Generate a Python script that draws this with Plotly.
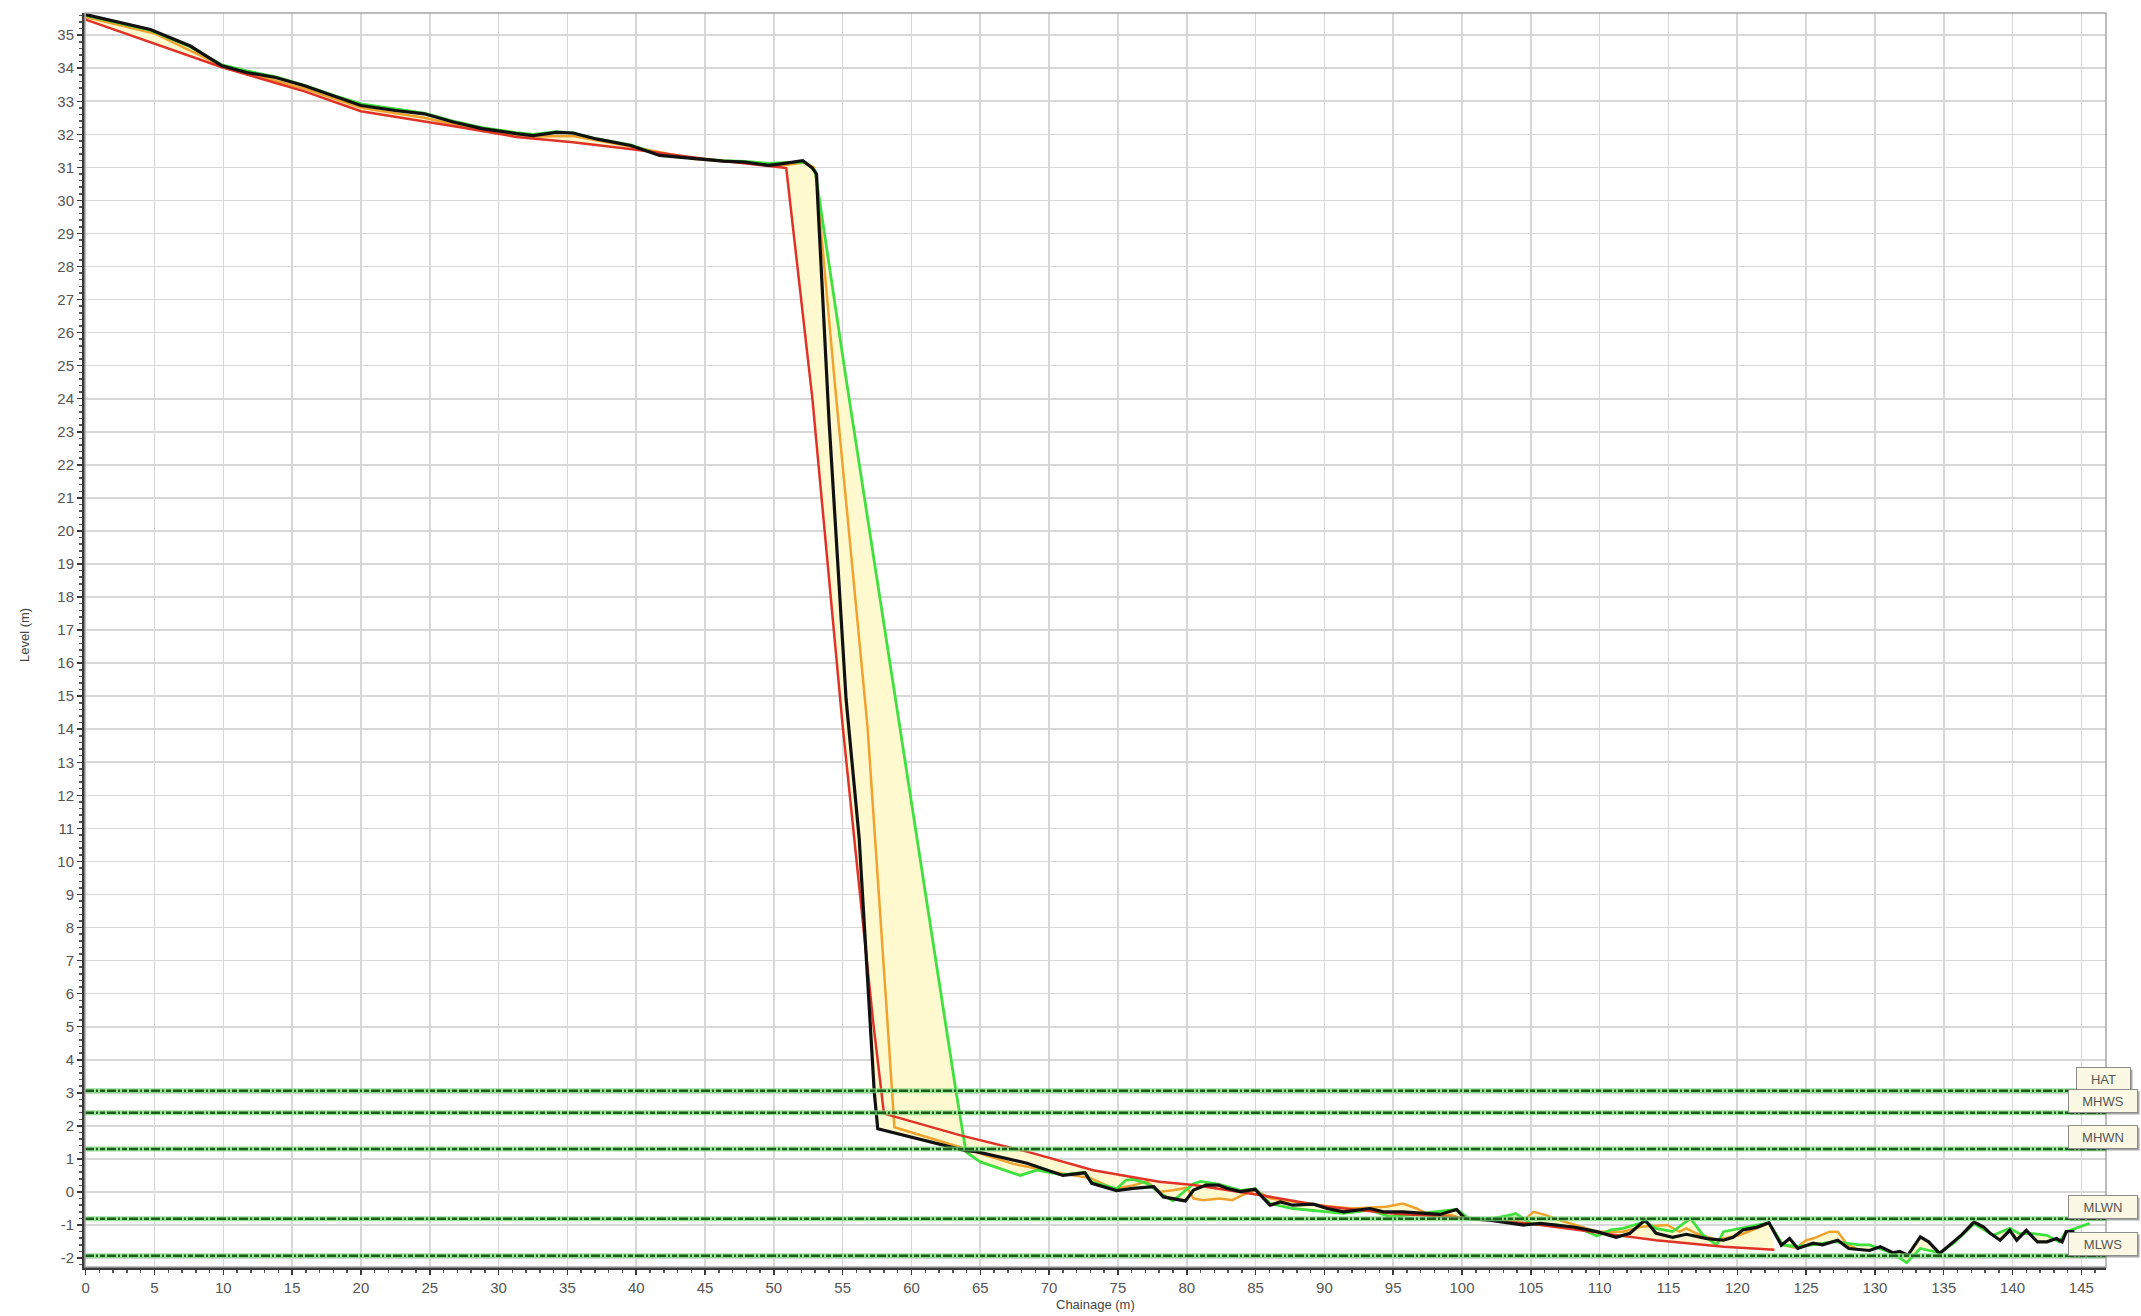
import plotly.graph_objects as go

# ---------------- data (chainage m, level m) ----------------
red_profile = [(0, 35.47), (9.9, 34.03), (15.9, 33.30), (20.0, 32.70), (27.1, 32.22), (31.3, 31.92),
               (35.4, 31.76), (40.0, 31.53), (45.0, 31.25), (49.6, 31.05), (50.9, 30.98), (52.8, 24.0),
               (55.0, 14.1), (57.2, 5.2), (58.0, 2.37), (63.5, 1.72), (68.4, 1.22), (73.2, 0.66),
               (78.0, 0.31), (80.5, 0.21), (85.3, -0.09), (90.2, -0.45), (95.0, -0.65), (100.0, -0.78),
               (102.0, -0.85), (105.0, -0.96), (109.3, -1.20), (114.1, -1.46), (119.0, -1.66), (122.7, -1.75)]

orange_profile = [(0, 35.55), (5.0, 35.05), (10.0, 34.05), (15.9, 33.38), (20.0, 32.80), (24.6, 32.50),
                  (28.8, 32.10), (32.5, 31.93), (35.4, 31.95), (40.0, 31.60), (44.2, 31.25), (47.9, 31.15),
                  (50.5, 31.05), (52.2, 31.15), (52.9, 31.0), (53.1, 30.6), (54.4, 24.6), (56.8, 14.1),
                  (58.15, 5.8), (58.76, 1.96), (63.96, 1.30), (67.4, 0.85), (71.0, 0.55), (73.0, 0.42),
                  (74.7, 0.10), (76.1, 0.20), (77.1, 0.32), (78.0, 0.0), (79.0, 0.05), (80.0, 0.13),
                  (80.5, -0.20), (81.2, -0.25), (82.4, -0.20), (83.3, -0.25), (84.0, -0.10), (85.0, 0.05),
                  (86.1, -0.20), (88.0, -0.30), (90.0, -0.42), (92.0, -0.50), (94.5, -0.45), (95.7, -0.35),
                  (96.7, -0.50), (97.9, -0.75), (99.2, -0.70), (100.0, -0.80), (102.0, -0.85), (104.5, -0.85),
                  (105.2, -0.60), (106.1, -0.70), (107.3, -0.88), (109.8, -1.20), (111.7, -1.20), (113.0, -1.05),
                  (114.9, -1.00), (115.8, -1.20), (116.3, -1.10), (117.0, -1.25), (118.5, -1.45), (120.2, -1.30),
                  (122.3, -0.95), (123.3, -1.60), (124.3, -1.70), (125.0, -1.46), (125.5, -1.41), (126.7, -1.20),
                  (127.3, -1.20), (128.0, -1.60), (128.6, -1.70)]

green_profile = [(0, 35.60), (4.7, 35.15), (7.6, 34.65), (9.9, 34.10), (11.7, 33.92), (13.8, 33.74),
                 (15.9, 33.48), (18.0, 33.18), (20.0, 32.92), (22.5, 32.78), (24.6, 32.64), (26.7, 32.40),
                 (28.8, 32.20), (31.3, 32.05), (32.5, 32.00), (34.2, 32.08), (35.4, 32.04), (37.1, 31.86),
                 (39.6, 31.68), (41.7, 31.38), (44.2, 31.27), (46.3, 31.20), (47.9, 31.18), (49.6, 31.12),
                 (51.0, 31.15), (52.3, 31.15), (53.0, 30.9), (55.25, 24.6), (63.24, 3.03), (63.96, 1.21),
                 (65.0, 0.91), (67.9, 0.50), (69.1, 0.66), (71.0, 0.52), (72.6, 0.60), (73.1, 0.30),
                 (74.9, 0.10), (75.6, 0.36), (76.1, 0.38), (77.1, 0.26), (78.3, -0.10), (79.0, -0.27),
                 (80.5, 0.25), (81.0, 0.32), (82.3, 0.24), (83.9, 0.05), (85.0, 0.10), (86.05, -0.35),
                 (87.7, -0.50), (89.2, -0.55), (90.2, -0.60), (91.4, -0.65), (93.3, -0.55), (94.8, -0.75),
                 (96.5, -0.68), (98.4, -0.60), (99.6, -0.53), (100.5, -0.80), (102.0, -0.82), (103.5, -0.70),
                 (103.9, -0.65), (105.0, -0.95), (107.0, -1.00), (108.5, -1.10), (109.8, -1.33), (110.8, -1.15),
                 (111.7, -1.10), (113.3, -0.90), (114.1, -1.10), (115.3, -1.20), (116.6, -0.80), (117.5, -1.30),
                 (118.5, -1.60), (119.0, -1.20), (120.2, -1.10), (121.4, -1.00), (122.3, -0.93), (123.3, -1.60),
                 (124.3, -1.65), (125.5, -1.60), (127.0, -1.50), (128.9, -1.60), (129.6, -1.60), (131.3, -1.85),
                 (132.3, -2.14), (133.3, -1.71), (134.7, -1.84), (135.7, -1.56), (136.7, -1.16), (137.2, -0.96),
                 (138.6, -1.31), (139.8, -1.10), (140.5, -1.26), (141.5, -1.26), (142.5, -1.31), (143.4, -1.51),
                 (143.9, -1.20), (145.6, -0.95)]

black_profile = [(0, 35.62), (4.7, 35.17), (7.6, 34.67), (9.9, 34.07), (11.7, 33.87), (13.8, 33.72),
                 (15.9, 33.47), (18.0, 33.17), (20.0, 32.87), (22.5, 32.72), (24.6, 32.62), (26.7, 32.37),
                 (28.8, 32.17), (31.3, 32.02), (32.5, 31.96), (34.2, 32.06), (35.4, 32.04), (37.1, 31.86),
                 (39.6, 31.66), (41.7, 31.36), (44.2, 31.26), (46.3, 31.19), (47.9, 31.16), (49.6, 31.06),
                 (50.4, 31.10), (52.1, 31.20), (52.8, 30.98), (53.1, 30.8), (53.2, 29.9), (54.0, 23.4),
                 (55.25, 14.9), (56.2, 10.7), (56.9, 5.8), (57.3, 3.0), (57.55, 1.91), (63.84, 1.26),
                 (64.7, 1.22), (68.4, 0.87), (71.0, 0.50), (72.6, 0.58), (73.1, 0.26), (74.9, 0.04),
                 (76.1, 0.11), (77.6, 0.16), (78.3, -0.15), (79.9, -0.27), (80.5, 0.06), (81.4, 0.21),
                 (82.3, 0.21), (82.9, 0.11), (83.9, 0.01), (84.96, 0.08), (86.05, -0.40), (86.8, -0.30),
                 (87.7, -0.40), (89.2, -0.37), (90.2, -0.50), (91.4, -0.60), (93.3, -0.50), (94.3, -0.60),
                 (95.7, -0.60), (97.2, -0.65), (98.4, -0.68), (99.6, -0.53), (100.2, -0.80), (102.0, -0.85),
                 (104.5, -1.00), (105.7, -0.95), (108.1, -1.06), (109.8, -1.20), (111.2, -1.37), (112.2, -1.25),
                 (113.3, -0.85), (114.1, -1.25), (115.3, -1.37), (116.3, -1.28), (117.8, -1.41), (119.0, -1.46),
                 (119.7, -1.37), (120.4, -1.15), (121.4, -1.07), (122.3, -0.93), (123.2, -1.61), (123.8, -1.41),
                 (124.4, -1.71), (125.5, -1.55), (126.2, -1.60), (127.3, -1.46), (128.1, -1.71), (129.6, -1.77),
                 (130.4, -1.66), (131.3, -1.84), (131.8, -1.80), (132.4, -1.91), (133.3, -1.36), (133.9, -1.51),
                 (134.7, -1.86), (135.7, -1.51), (136.3, -1.30), (137.2, -0.91), (137.9, -1.06), (138.4, -1.26),
                 (139.1, -1.46), (139.8, -1.16), (140.3, -1.46), (141.0, -1.16), (141.8, -1.51), (142.5, -1.51),
                 (143.2, -1.41), (143.6, -1.51), (143.9, -1.20), (144.5, -1.20)]

tide_names = ["HAT", "MHWS", "MHWN", "MLWN", "MLWS"]
tide_levels = [3.06, 2.40, 1.30, -0.81, -1.93]

x_ticks = list(range(0, 150, 5))
y_ticks = list(range(-2, 36))

# ---------------- styling ----------------
FONT = "Liberation Sans Narrow, Arial Narrow, Liberation Sans, Arial, sans-serif"
FILL = "#FFF9D0"
COLORS = {"orange": "#EFA22E", "green": "#3FE03F", "red": "#DF3328", "black": "#111111"}
WIDTHS = {"orange": 2.5, "green": 2.8, "red": 2.5, "black": 3.2}


def xs(p):
    return [a for a, _ in p]


def ys(p):
    return [b for _, b in p]


def clip(p, xmax):
    return [q for q in p if q[0] <= xmax + 1e-9]


fig = go.Figure()

# envelope fill between every pair of survey profiles
profiles = {"red": red_profile, "orange": orange_profile, "green": green_profile, "black": black_profile}
names = list(profiles)
for i in range(len(names)):
    for j in range(i + 1, len(names)):
        a, b = profiles[names[i]], profiles[names[j]]
        xmax = min(a[-1][0], b[-1][0])
        a2, b2 = clip(a, xmax), clip(b, xmax)
        fig.add_trace(go.Scatter(x=xs(a2), y=ys(a2), mode="lines", line=dict(width=0),
                                 hoverinfo="skip", showlegend=False))
        fig.add_trace(go.Scatter(x=xs(b2), y=ys(b2), mode="lines", line=dict(width=0),
                                 fill="tonexty", fillcolor=FILL, hoverinfo="skip", showlegend=False))

# profile lines
for name in ["orange", "green", "red", "black"]:
    p = profiles[name]
    fig.add_trace(go.Scatter(x=xs(p), y=ys(p), mode="lines",
                             line=dict(color=COLORS[name], width=WIDTHS[name]),
                             showlegend=False, hoverinfo="skip"))

# tidal level lines
shapes = []
for lvl in tide_levels:
    shapes.append(dict(type="line", xref="x domain", yref="y", x0=0, x1=1, y0=lvl, y1=lvl,
                       line=dict(color="rgba(120,215,120,0.75)", width=5), layer="above"))
    shapes.append(dict(type="line", xref="x domain", yref="y", x0=0, x1=1, y0=lvl, y1=lvl,
                       line=dict(color="#1B5E1B", width=2.5, dash="9px,2px,2px,2px,5px,2px"),
                       layer="above"))
# top / right frame
shapes.append(dict(type="rect", xref="x domain", yref="y domain", x0=0, x1=1, y0=0, y1=1,
                   line=dict(color="#A6A6A6", width=1.5), layer="above"))

annotations = []
for name, lvl in zip(tide_names, tide_levels):
    w = 51 if name == "HAT" else 66
    annotations.append(dict(text="", xref="paper", yref="y", x=1, y=lvl, xanchor="center",
                            yanchor="bottom", xshift=-1, yshift=-2, width=w, height=20,
                            bgcolor="rgba(60,60,60,0.45)", borderpad=1, borderwidth=1,
                            bordercolor="rgba(0,0,0,0)", showarrow=False))
    annotations.append(dict(text=name, xref="paper", yref="y", x=1, y=lvl, xanchor="center",
                            yanchor="bottom", xshift=-3, yshift=0, width=w, height=20,
                            bgcolor="#FBF8E4", bordercolor="#8C8C8C", borderwidth=1, borderpad=1,
                            font=dict(family=FONT, size=13, color="#555555"), showarrow=False))

annotations.append(dict(text="Level (m)", xref="paper", yref="paper", x=0, y=0.504,
                        xanchor="center", yanchor="middle", xshift=-60, textangle=-90,
                        font=dict(family=FONT, size=13, color="#444444"), showarrow=False))
annotations.append(dict(text="Chainage (m)", xref="paper", yref="paper", x=0.5, y=0,
                        xanchor="center", yanchor="middle", yshift=-37,
                        font=dict(family=FONT, size=13, color="#444444"), showarrow=False))

fig.update_layout(
    width=2141, height=1316, autosize=False,
    margin=dict(l=85, r=35, t=13, b=49, pad=0),
    paper_bgcolor="white", plot_bgcolor="white",
    showlegend=False, hovermode=False,
    shapes=shapes, annotations=annotations,
    xaxis=dict(range=[-0.05, 146.79], tickmode="array", tickvals=x_ticks,
               ticktext=[str(v) for v in x_ticks],
               showgrid=True, gridcolor="#D7D7D7", gridwidth=1.6, zeroline=False,
               showline=True, linecolor="#3A3A3A", linewidth=3,
               ticks="outside", ticklen=5, tickwidth=1.5, tickcolor="#3A3A3A",
               minor=dict(dtick=1, tick0=0, ticks="outside", ticklen=3, tickcolor="#555555",
                          showgrid=False),
               tickfont=dict(family=FONT, size=15, color="#555555")),
    yaxis=dict(range=[-2.27, 35.67], tickmode="array", tickvals=y_ticks,
               ticktext=[str(v) for v in y_ticks],
               showgrid=True, gridcolor="#D7D7D7", gridwidth=1.6, zeroline=False,
               showline=True, linecolor="#3A3A3A", linewidth=3,
               ticks="outside", ticklen=5, tickwidth=1.5, tickcolor="#3A3A3A",
               minor=dict(dtick=0.2, tick0=0, ticks="outside", ticklen=3, tickcolor="#555555",
                          showgrid=False),
               tickfont=dict(family=FONT, size=15, color="#555555")),
)

fig.write_html("out.html", config={"displayModeBar": False, "staticPlot": True},
               post_script="document.body.style.margin='0';document.body.style.padding='0';"
                           "document.body.style.overflow='hidden';")
